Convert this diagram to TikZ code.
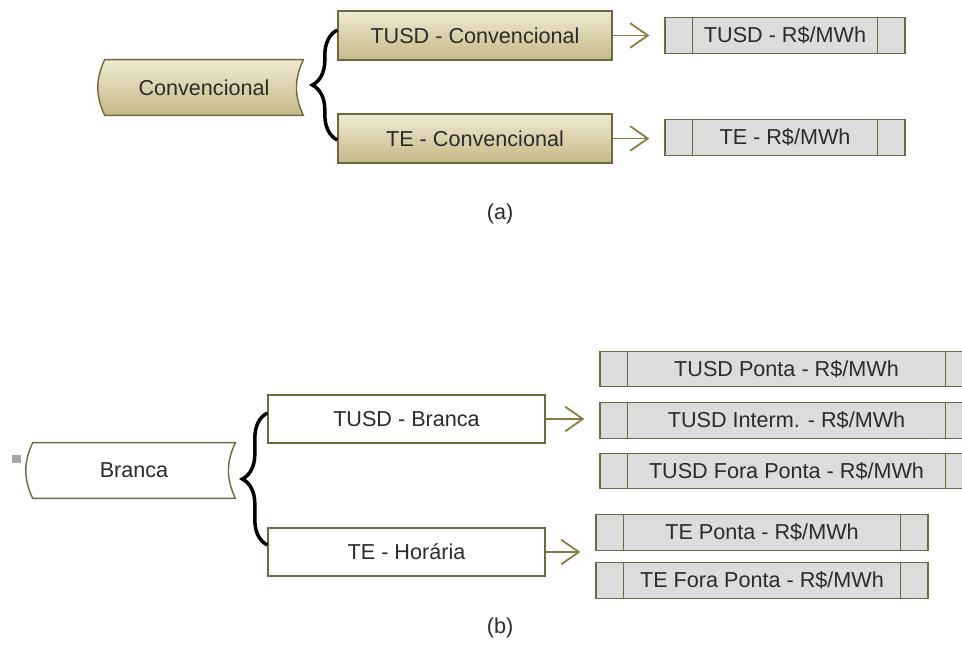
\documentclass[tikz,border=0pt]{standalone}
\usepackage{fontspec}
\setmainfont{Liberation Sans}
\usetikzlibrary{arrows.meta,decorations.pathreplacing,backgrounds}

\definecolor{olivetop}{HTML}{EFEBD2}
\definecolor{olivebot}{HTML}{C6B886}
\definecolor{oliveline}{HTML}{6E6A3E}
\definecolor{arrowolive}{HTML}{877C3E}
\definecolor{valgray}{HTML}{DCDCDC}
\definecolor{textgray}{HTML}{2B2B2B}
\definecolor{handlegray}{HTML}{A6A6A6}

\begin{document}
\begin{tikzpicture}[x=0.02cm, y=-0.02cm,
    every node/.style={font=\fontsize{12.3}{15}\selectfont, text=textgray, inner sep=0pt},
    scroll/.style={minimum width=#1, minimum height=1.1cm},
    scrollline/.style={draw=oliveline, line width=0.8pt},
    gold/.style={draw=oliveline, line width=0.8pt, top color=olivetop, bottom color=olivebot,
        minimum width=5.48cm, minimum height=0.98cm},
    plain/.style={draw=oliveline, line width=0.8pt, fill=white, minimum width=5.54cm, minimum height=0.96cm},
    valbox/.style={draw=oliveline, line width=0.8pt, fill=valgray, minimum width=#1, minimum height=0.71cm,
        path picture={
            \draw[oliveline, line width=0.8pt]
                ([xshift=0.55cm]path picture bounding box.north west) -- ([xshift=0.55cm]path picture bounding box.south west)
                ([xshift=-0.55cm]path picture bounding box.north east) -- ([xshift=-0.55cm]path picture bounding box.south east);
        }},
    goes/.style={arrowolive, line width=1pt, -{Straight Barb[length=10pt,width=14pt]}, shorten >=0.3cm},
    curly/.style={decorate, decoration={brace, amplitude=0.5cm}, line width=2pt}]

    \useasboundingbox (0,0) rectangle (962,646);
    \clip (0,0) rectangle (962,646);

    % (a) Convencional
    \node[scroll=3.96cm] (conv) at (204,87.5) {Convencional};
    \begin{scope}[on background layer]
        \draw[scrollline, top color=olivetop, bottom color=olivebot]
            (conv.north west) -- (conv.north east) to[bend right=25] (conv.south east)
            -- (conv.south west) to[bend left=25] (conv.north west) -- cycle;
    \end{scope}

    \node[gold] (tusdconv) at (475,35.5) {TUSD - Convencional};
    \node[gold] (teconv) at (475,138.5) {TE - Convencional};
    \draw[curly] ([yshift=-0.03cm]teconv.west) -- ([yshift=0.11cm]tusdconv.west);

    \node[valbox=4.8cm] (tusdval) at (785,35.5) {TUSD - R\$/MWh};
    \node[valbox=4.8cm] (teval) at (785,137.5) {TE - R\$/MWh};
    \draw[goes] (tusdconv.east) -- (tusdval.west |- tusdconv.east);
    \draw[goes] (teconv.east) -- (teval.west |- teconv.east);

    \node (capa) at (500,214) {(a)};

    % (b) Branca
    \node[fill=handlegray, minimum width=0.18cm, minimum height=0.16cm] (handle) at (16.5,459) {};
    \node[scroll=4.04cm] (branca) at (134,470.5) {Branca};
    \begin{scope}[on background layer]
        \draw[scrollline, fill=white]
            (branca.north west) -- (branca.north east) to[bend right=25] (branca.south east)
            -- (branca.south west) to[bend left=25] (branca.north west) -- cycle;
    \end{scope}

    \node[plain] (tusdbr) at (406.5,419) {TUSD - Branca};
    \node[plain] (tehor) at (406.5,552) {TE - Horária};
    \draw[curly] ([yshift=0.14cm]tehor.west) -- ([yshift=0.12cm]tusdbr.west);

    \node[valbox=7.46cm] (tusdpta) at (786.5,369) {TUSD Ponta - R\$/MWh};
    \node[valbox=7.46cm] (tusdint) at (786.5,420.5) {TUSD Interm. - R\$/MWh};
    \node[valbox=7.46cm] (tusdfora) at (786.5,471) {TUSD Fora Ponta - R\$/MWh};
    \node[valbox=6.64cm] (tepta) at (762,532.5) {TE Ponta - R\$/MWh};
    \node[valbox=6.64cm] (tefora) at (762,580.5) {TE Fora Ponta - R\$/MWh};
    \draw[goes] (tusdbr.east) -- (tusdint.west |- tusdbr.east);
    \draw[goes] (tehor.east) -- (tepta.west |- tehor.east);

    \node (capb) at (500,628) {(b)};
\end{tikzpicture}
\end{document}
